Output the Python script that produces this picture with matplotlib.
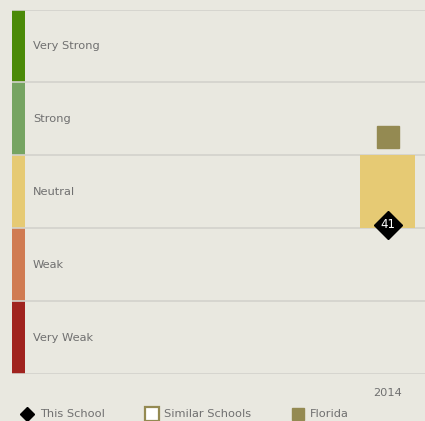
"""School rating chart: band strip, this school vs Florida."""
import matplotlib
matplotlib.use("Agg")
import matplotlib.pyplot as plt
from matplotlib.lines import Line2D
from matplotlib.patches import Rectangle
import matplotlib.transforms as mtransforms

plt.rcParams["font.family"] = ["DejaVu Sans"]

BG = "#e9e8e0"
GRID = "#d3d2cc"
TEXT = "#707070"
FS = 8.2

bands = ["Very Weak", "Weak", "Neutral", "Strong", "Very Strong"]
band_edges = [0, 20, 40, 60, 80, 100]
band_colors = ["#a0231f", "#d07b52", "#e6ca74", "#76a462", "#4b8a08"]

years = ["2014"]
school = [41]
florida = [65]
florida_color = "#948a52"


def main() -> None:
    fig = plt.figure(figsize=(4.25, 4.21), dpi=100, facecolor=BG)
    ax = fig.add_axes([12 / 425, 47 / 421, 413 / 425, 364.5 / 421])
    ax.set_facecolor(BG)
    for s in ax.spines.values():
        s.set_visible(False)

    x = list(range(len(years)))
    ax.set_xlim(-375.5 / 55, 37.5 / 55)
    ax.set_ylim(band_edges[0], band_edges[-1])

    # colored strip on the left + band labels
    strip = mtransforms.blended_transform_factory(ax.transAxes, ax.transData)
    for i, name in enumerate(bands):
        lo, hi = band_edges[i], band_edges[i + 1]
        ax.add_patch(Rectangle((0, lo), 13 / 413, hi - lo, transform=strip,
                               facecolor=band_colors[i], edgecolor="none", zorder=1))
        ax.text(21 / 413, (lo + hi) / 2, name, transform=strip, fontsize=FS,
                color=TEXT, va="center", ha="left")

    for e in band_edges:
        ax.axhline(e, color=GRID, lw=1.2, zorder=2)

    # bar showing the band this school falls in
    for xi, v in zip(x, school):
        i = min(int(v // 20), len(bands) - 1)
        lo, hi = band_edges[i], band_edges[i + 1]
        ax.bar(xi, hi - lo, bottom=lo, width=1.0, color=band_colors[i], zorder=3)

    ax.plot(x, florida, linestyle="none", marker="s", markersize=16.5,
            color=florida_color, zorder=4)
    ax.plot(x, school, linestyle="none", marker="D", markersize=14.5,
            color="black", zorder=5)
    for xi, v in zip(x, school):
        ax.text(xi, v, str(v), color="white", fontsize=8.5, ha="center",
                va="center", zorder=6)

    ax.set_yticks([])
    ax.set_xticks(x)
    ax.set_xticklabels(years, fontsize=FS, color=TEXT)
    ax.tick_params(axis="x", length=0, pad=10)

    # legend along the bottom
    ly = 1 - 414 / 421
    def px(v):
        return v / 425
    fig.add_artist(Line2D([px(26.5)], [ly], marker="D", markersize=7.5,
                          color="black", linestyle="none"))
    fig.text(px(40), ly, "This School", fontsize=FS, color=TEXT, va="center")
    fig.add_artist(Line2D([px(151.5)], [ly], marker="s", markersize=10,
                          markerfacecolor="white", markeredgecolor=florida_color,
                          markeredgewidth=1.6, linestyle="none"))
    fig.text(px(164), ly, "Similar Schools", fontsize=FS, color=TEXT, va="center")
    fig.add_artist(Line2D([px(298)], [ly], marker="s", markersize=9,
                          color=florida_color, linestyle="none"))
    fig.text(px(310), ly, "Florida", fontsize=FS, color=TEXT, va="center")

    fig.savefig("out.png", dpi=100, facecolor=BG)
    plt.close(fig)


if __name__ == "__main__":
    main()
